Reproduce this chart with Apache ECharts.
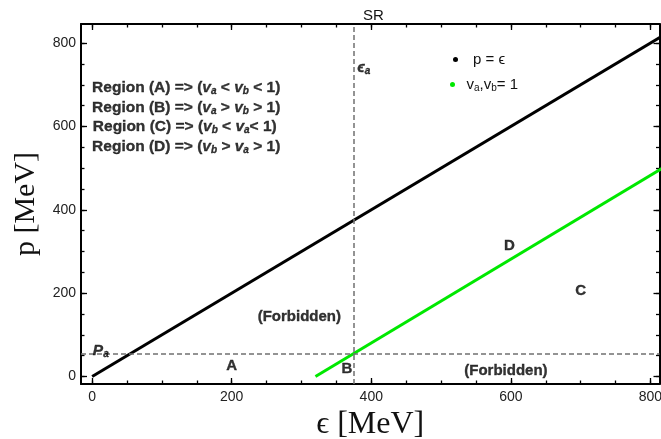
<!DOCTYPE html>
<html>
<head>
<meta charset="utf-8">
<script src="https://cdn.jsdelivr.net/npm/echarts@6/dist/echarts.min.js"></script>
<style>html,body{margin:0;padding:0;background:#fff}#c{width:661px;height:439px}</style>
</head>
<body>
<div id="c"></div>
<script>
// ---- data ----
const xMajor = [0, 200, 400, 600, 800];
const xMinor = [0, 50, 100, 150, 200, 250, 300, 350, 400, 450, 500, 550, 600, 650, 700, 750, 800];
const yMajor = [0, 200, 400, 600, 800];
const yMinor = [0, 50, 100, 150, 200, 250, 300, 350, 400, 450, 500, 550, 600, 650, 700, 750, 800];

const blackX = [0, 850];
const blackY = [0, 850];
const greenX = [320, 850];
const greenY = [0, 533];

const epsA = 375;   // vertical dashed line
const pA = 55;      // horizontal dashed line

const annoText = ['(Forbidden)', '(Forbidden)', 'A', 'B', 'C', 'D'];
const annoX = [297, 593, 200, 365, 700, 598];
const annoY = [143, 14, 25, 18, 206, 314];

const regionText = [
  '{b|Region (A) => (}{i|v}{s|a}{b| < }{i|v}{s|b}{b| < 1)}',
  '{b|Region (B) => (}{i|v}{s|a}{b| > }{i|v}{s|b}{b| > 1)}',
  '{b|Region (C) => (}{i|v}{s|b}{b| < }{i|v}{s|a}{b|< 1)}',
  '{b|Region (D) => (}{i|v}{s|b}{b| > }{i|v}{s|a}{b| > 1)}'
];
const regionX = [0, 0, 1, 0];
const regionY = [693, 646, 600, 552];

const XMIN = -16, XMAX = 813, YMIN = -18, YMAX = 846;

// ---- chart ----
const FONT = 'Liberation Sans';
const INK = {color: '#000', textBorderColor: '#000', textBorderWidth: 0.35};
const richStyles = {
  b: Object.assign({fontWeight: 'bold', fontSize: 15.5, fontFamily: FONT}, INK),
  i: Object.assign({fontWeight: 'bold', fontStyle: 'italic', fontSize: 15.5, fontFamily: FONT}, INK),
  s: Object.assign({fontWeight: 'bold', fontStyle: 'italic', fontSize: 10, fontFamily: FONT, padding: [7, 0, 0, 0]}, INK)
};

function xAx(pos, ticks, len, labels, line) {
  return {
    type: 'value', min: XMIN, max: XMAX, position: pos,
    axisLine: {show: line, onZero: false, lineStyle: {color: '#000', width: 2}},
    axisTick: {show: true, inside: true, length: len, customValues: ticks, lineStyle: {color: '#000', width: 1.3}},
    axisLabel: labels ? {show: true, customValues: xMajor, fontSize: 14, fontFamily: FONT, color: '#222', margin: 6} : {show: false},
    splitLine: {show: false}
  };
}
function yAx(pos, ticks, len, labels, line) {
  return {
    type: 'value', min: YMIN, max: YMAX, position: pos,
    axisLine: {show: line, onZero: false, lineStyle: {color: '#000', width: 2}},
    axisTick: {show: true, inside: true, length: len, customValues: ticks, lineStyle: {color: '#000', width: 1.3}},
    axisLabel: labels ? {show: true, customValues: yMajor, fontSize: 14, fontFamily: FONT, color: '#222', margin: 5} : {show: false},
    splitLine: {show: false}
  };
}

const xAxes = [
  Object.assign(xAx('bottom', xMajor, 6, true, true), {
    name: 'ϵ [MeV]', nameLocation: 'middle', nameGap: 19,
    nameTextStyle: {fontFamily: 'Liberation Serif', fontSize: 32, color: '#111'}
  }),
  xAx('bottom', xMinor, 3.5, false, false),
  xAx('top', xMajor, 6, false, true),
  xAx('top', xMinor, 3.5, false, false)
];
const yAxes = [
  Object.assign(yAx('left', yMajor, 6, true, true), {
    name: 'p [MeV]', nameLocation: 'middle', nameGap: 40, nameRotate: 90,
    nameTextStyle: {fontFamily: 'Liberation Serif', fontSize: 30, color: '#111'}
  }),
  yAx('left', yMinor, 3.5, false, false),
  yAx('right', yMajor, 6, false, true),
  yAx('right', yMinor, 3.5, false, false)
];

const annoData = annoText.map((t, k) => ({value: [annoX[k], annoY[k]], label: {formatter: t}}));
const regionData = regionText.map((t, k) => ({value: [regionX[k], regionY[k]], label: {formatter: t}}));

const option = {
  animation: false,
  backgroundColor: '#fff',
  title: {
    text: 'SR', left: 358, top: 3,
    textStyle: {fontFamily: FONT, fontSize: 15, fontWeight: 'normal', color: '#111'}
  },
  grid: {left: 81, right: 1.5, top: 24, bottom: 55, outerBoundsMode: 'none', containLabel: false},
  legend: [
    {
      data: [{name: 'p = ϵ', icon: 'circle'}], left: 448, top: 47,
      itemWidth: 25, itemHeight: 5, selectedMode: false,
      textStyle: {fontFamily: FONT, fontSize: 15, color: '#111'}
    },
    {
      data: [{name: 'va,vb= 1', icon: 'circle'}], left: 445, top: 72,
      itemWidth: 18, itemHeight: 5, selectedMode: false,
      formatter: function () { return '{t|v}{s|a}{t|,v}{s|b}{t|= 1}'; },
      textStyle: {
        fontFamily: FONT, fontSize: 15, color: '#111',
        rich: {
          t: {fontFamily: FONT, fontSize: 15, color: '#111'},
          s: {fontFamily: FONT, fontSize: 10, color: '#111', padding: [7, 0, 0, 0]}
        }
      }
    }
  ],
  xAxis: xAxes,
  yAxis: yAxes,
  series: [
    {
      name: 'p = ϵ', type: 'line', showSymbol: false, symbol: 'circle',
      data: blackX.map((x, k) => [x, blackY[k]]),
      lineStyle: {color: '#000', width: 3}, itemStyle: {color: '#000'},
      clip: true, z: 3,
      markLine: {
        silent: true, symbol: 'none', label: {show: false},
        lineStyle: {color: '#707070', width: 1.5, type: [5, 3]},
        data: [{xAxis: epsA}, {yAxis: pA}]
      }
    },
    {
      name: 'va,vb= 1', type: 'line', showSymbol: false, symbol: 'circle',
      data: greenX.map((x, k) => [x, greenY[k]]),
      lineStyle: {color: '#00e800', width: 3}, itemStyle: {color: '#00e800'},
      clip: true, z: 3
    },
    {
      type: 'scatter', symbolSize: 0.1, itemStyle: {color: 'rgba(0,0,0,0)'}, silent: true, z: 5,
      data: annoData,
      label: Object.assign({show: true, position: [0, 0], align: 'center', verticalAlign: 'middle',
        fontFamily: FONT, fontSize: 15, fontWeight: 'bold'}, INK)
    },
    {
      type: 'scatter', symbolSize: 0.1, itemStyle: {color: 'rgba(0,0,0,0)'}, silent: true, z: 5,
      data: regionData,
      label: {show: true, position: [0, 0], align: 'left', verticalAlign: 'middle', rich: richStyles}
    },
    {
      type: 'scatter', symbolSize: 0.1, itemStyle: {color: 'rgba(0,0,0,0)'}, silent: true, z: 5,
      data: [
        {value: [380, 740], label: {formatter: '{i|ϵ}{s|a}'}},
        {value: [1, 62], label: {formatter: '{i|P}{s|a}'}}
      ],
      label: {show: true, position: [0, 0], align: 'left', verticalAlign: 'middle', rich: richStyles}
    }
  ]
};

const chart = echarts.init(document.getElementById('c'), null, {renderer: 'canvas'});
chart.setOption(option);
</script>
</body>
</html>
